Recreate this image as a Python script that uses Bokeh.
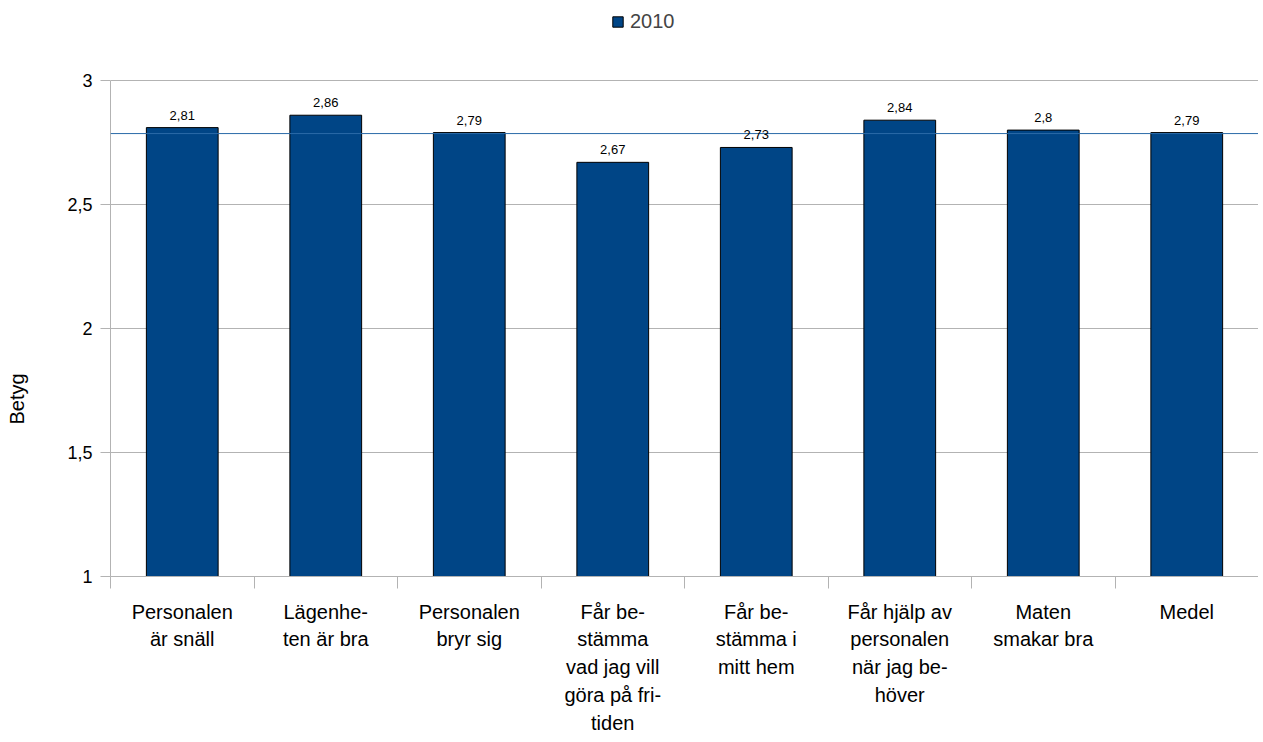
import numpy as np
from bokeh.plotting import figure
from bokeh.models import (ColumnDataSource, Range1d, FixedTicker, LabelSet, Span,
                          Legend, LegendItem, Title, LinearAxis)
from bokeh.core.properties import value
from bokeh.embed import file_html
from bokeh.resources import INLINE

# ---- data ----
categories = [
    "Personalen\när snäll",
    "Lägenhe-\nten är bra",
    "Personalen\nbryr sig",
    "Får be-\nstämma\nvad jag vill\ngöra på fri-\ntiden",
    "Får be-\nstämma i\nmitt hem",
    "Får hjälp av\npersonalen\nnär jag be-\nhöver",
    "Maten\nsmakar bra",
    "Medel",
]
values_2010 = [2.81, 2.86, 2.79, 2.67, 2.73, 2.84, 2.80, 2.79]
series_name = "2010"
mean_line = 2.786
y_ticks = [1, 1.5, 2, 2.5, 3]
y_title = "Betyg"

BAR = "#004586"
GRID = "#b3b3b3"
FONT = "Liberation Sans"

# ---- layout (pixels) ----
W, H = 1258, 740
ML, MR = 110, 0
FRAME_TOP = 4          # frame starts near the top so the legend can sit inside it
Y3_PX, Y1_PX = 80, 576  # where the value axis 3 and 1 should land
MB = H - Y1_PX
px_per_unit = (Y1_PX - Y3_PX) / (y_ticks[-1] - y_ticks[0])
y_end = y_ticks[-1] + (Y3_PX - FRAME_TOP) / px_per_unit

n = len(categories)
centers = list(np.arange(n) + 0.5)
bounds_x = list(range(n + 1))

src = ColumnDataSource(dict(
    x=centers,
    top=values_2010,
    vlab=[f"{v:g}".replace(".", ",") for v in values_2010],
))

p = figure(width=W, height=H, output_backend="svg", toolbar_location=None,
           x_range=Range1d(0, n), y_range=Range1d(y_ticks[0], y_end),
           min_border_left=ML, min_border_right=MR, min_border_top=FRAME_TOP,
           min_border_bottom=MB)
p.outline_line_color = None
p.background_fill_color = "white"
p.border_fill_color = "white"

bars = p.vbar(x="x", top="top", bottom=y_ticks[0], width=0.5, source=src,
              fill_color=BAR, line_color="black", line_width=1)

p.add_layout(Span(location=mean_line, dimension="width", line_color="#2a6aa8", line_width=1))

# value labels
p.add_layout(LabelSet(x="x", y="top", text="vlab", source=src, text_align="center",
                      text_baseline="bottom", y_offset=8, text_font=value(FONT),
                      text_font_size="13px", text_color="black"))

# x axis: category names at centres, tick marks at category boundaries
p.xaxis.ticker = FixedTicker(ticks=centers, minor_ticks=bounds_x)
p.xaxis.major_label_overrides = {c: lab for c, lab in zip(centers, categories)}
p.xaxis.major_label_text_font = FONT
p.xaxis.major_label_text_font_size = "20px"
p.xaxis.major_label_text_color = "black"
p.xaxis.major_label_text_line_height = 1.27
p.xaxis.major_label_standoff = 12
p.xaxis.major_tick_out = 0
p.xaxis.major_tick_in = 0
p.xaxis.major_tick_line_color = None
p.xaxis.minor_tick_out = 12
p.xaxis.minor_tick_in = 0
p.xaxis.minor_tick_line_color = GRID
p.xaxis.axis_line_color = GRID
p.xgrid.visible = False

# y axis
p.yaxis.ticker = FixedTicker(ticks=y_ticks)
p.yaxis.bounds = (y_ticks[0], y_ticks[-1])
p.yaxis.major_label_overrides = {t: f"{t:g}".replace(".", ",") for t in y_ticks}
p.yaxis.major_label_text_font = FONT
p.yaxis.major_label_text_font_size = "18px"
p.yaxis.major_label_text_color = "black"
p.yaxis.major_label_standoff = 8
p.yaxis.major_tick_out = 10
p.yaxis.major_tick_in = 0
p.yaxis.minor_tick_line_color = None
p.yaxis.axis_line_color = GRID
p.yaxis.major_tick_line_color = GRID
p.ygrid.grid_line_color = GRID

# empty spacer axis, then the value-axis title placed lower than the frame centre
spacer = LinearAxis(ticker=FixedTicker(ticks=[]), axis_line_color=None,
                    major_tick_line_color=None, minor_tick_line_color=None,
                    axis_label=" ", axis_label_text_font_size="1px", axis_label_standoff=33)
p.add_layout(spacer, "left")
p.add_layout(Title(text=y_title, align="left", vertical_align="bottom", offset=152,
                   standoff=0, text_font=FONT, text_font_size="20px",
                   text_font_style="normal", text_color="black"), "left")

frame_h = Y1_PX - FRAME_TOP
legend = Legend(items=[LegendItem(label=series_name, renderers=[bars])],
                orientation="horizontal", location=(499, frame_h - 31),
                label_text_font=FONT, label_text_font_size="20px",
                glyph_width=13, glyph_height=13, border_line_alpha=0,
                background_fill_alpha=0, margin=0, padding=2, spacing=4, label_standoff=6)
p.add_layout(legend, "center")

open("out.html", "w").write(file_html(p, INLINE))
